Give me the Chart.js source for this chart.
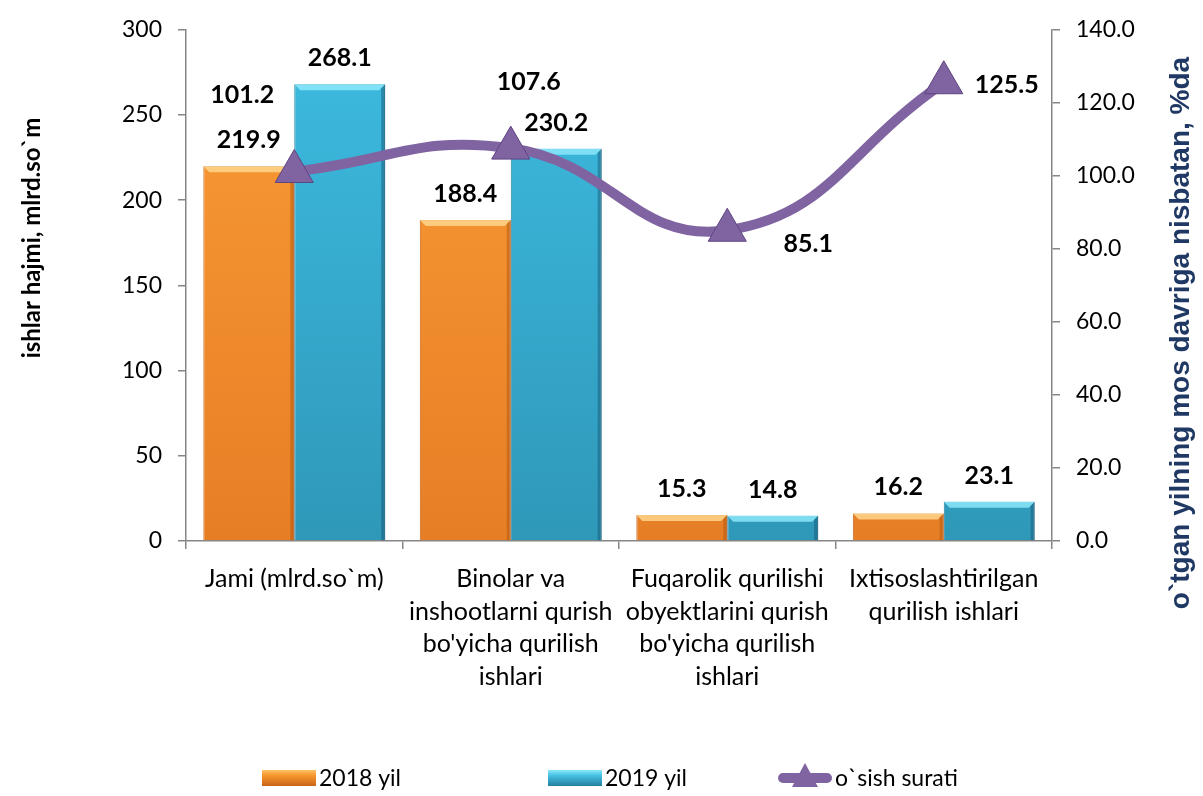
<!DOCTYPE html>
<html>
<head>
<meta charset="utf-8">
<script src="https://cdn.jsdelivr.net/npm/chart.js@4.4.1/dist/chart.umd.min.js"></script>
<style>
  html, body { margin: 0; padding: 0; background: #fff; }
  #wrap { width: 1203px; height: 796px; position: relative; }
</style>
</head>
<body>
<div id="wrap"><canvas id="grafik"></canvas></div>
<script>
// Kategoriyalar (x o'qi)
const kategoriyalar = [
  'Jami (mlrd.so`m)',
  ['Binolar va', 'inshootlarni qurish', "bo'yicha qurilish", 'ishlari'],
  ['Fuqarolik qurilishi', 'obyektlarini qurish', "bo'yicha qurilish", 'ishlari'],
  ['Ixtisoslashtirilgan', 'qurilish ishlari']
];

// Qiymatlar
const yil2018 = [219.9, 188.4, 15.3, 16.2];
const yil2019 = [268.1, 230.2, 14.8, 23.1];
const osishSurati = [101.2, 107.6, 85.1, 125.5];

// Nomlar
const seriyaNomlari = ['2018 yil', '2019 yil', 'o`sish surati'];
const chapSarlavha = 'ishlar hajmi, mlrd.so`m';
const ongSarlavha = 'o`tgan yilning mos davriga nisbatan, %da';

// chiziq yorliqlarining siljishi (px)
const chiziqYorliqSiljish = [[-52, -77], [18, -66], [81, 14], [63, 2]];

Chart.defaults.font.family = 'Lato, "Open Sans", sans-serif';
Chart.defaults.color = '#000';

const QORA = '#000';
const KULRANG = '#868686';
const BINAFSHA = '#8064A2';

function gradient(ctx, ust, past) {
  const a = ctx.chart.chartArea;
  if (!a) return past;
  const g = ctx.chart.ctx.createLinearGradient(0, a.bottom, 0, a.top);
  g.addColorStop(0, past);
  g.addColorStop(1, ust);
  return g;
}

// ustunlarga bo'rtiq (bevel) effekti
const bevelPlugin = {
  id: 'bevel',
  afterDatasetDraw(chart, args) {
    if (args.index > 1) return;
    const c = chart.ctx;
    const ochiq = args.index === 0 ? 'rgba(255,214,140,0.85)' : 'rgba(140,232,250,0.85)';
    const toq = args.index === 0 ? 'rgba(170,80,10,0.45)' : 'rgba(20,80,110,0.45)';
    c.save();
    args.meta.data.forEach(el => {
      const l = el.x - el.width / 2, r = el.x + el.width / 2, t = el.y, b = el.base;
      const k = 6;
      c.fillStyle = ochiq;
      c.beginPath();
      c.moveTo(l, t); c.lineTo(r, t); c.lineTo(r - k, t + k); c.lineTo(l + k, t + k);
      c.closePath(); c.fill();
      c.fillStyle = toq;
      c.beginPath();
      c.moveTo(r, t); c.lineTo(r, b); c.lineTo(r - 4, b); c.lineTo(r - 4, t + 4);
      c.closePath(); c.fill();
    });
    c.restore();
  }
};

// qiymat yorliqlari
const yorliqPlugin = {
  id: 'yorliqlar',
  afterDatasetsDraw(chart) {
    const c = chart.ctx;
    c.save();
    c.font = 'bold 25px Lato, "Open Sans", sans-serif';
    c.fillStyle = QORA;
    c.textAlign = 'center';
    c.textBaseline = 'middle';
    [0, 1].forEach(di => {
      const qator = chart.data.datasets[di].data;
      chart.getDatasetMeta(di).data.forEach((el, i) => {
        c.fillText(qator[i].toFixed(1), el.x, el.y - 26);
      });
    });
    chart.getDatasetMeta(2).data.forEach((el, i) => {
      const s = chiziqYorliqSiljish[i];
      c.fillText(osishSurati[i].toFixed(1), el.x + s[0], el.y + s[1]);
    });
    c.restore();
  }
};

// o'q sarlavhalari va legenda
const sarlavhaPlugin = {
  id: 'sarlavhalar',
  afterDraw(chart) {
    const c = chart.ctx;
    c.save();
    c.textAlign = 'center';
    c.textBaseline = 'middle';
    c.fillStyle = QORA;
    c.font = 'bold 24px Lato, "Open Sans", sans-serif';
    c.translate(32, 238);
    c.rotate(-Math.PI / 2);
    c.fillText(chapSarlavha, 0, 0);
    c.restore();

    c.save();
    c.textAlign = 'center';
    c.textBaseline = 'middle';
    c.fillStyle = '#1F3864';
    c.font = 'bold 28px "Liberation Sans", Arial, sans-serif';
    c.translate(1181, 333);
    c.rotate(-Math.PI / 2);
    c.fillText(ongSarlavha, 0, 0);
    c.restore();

    // legenda
    const y = 778;
    const boshlar = [262, 548, 778];
    c.save();
    c.font = '23px Lato, "Open Sans", sans-serif';
    c.textBaseline = 'middle';
    c.textAlign = 'left';
    boshlar.forEach((x, i) => {
      if (i < 2) {
        const g = c.createLinearGradient(0, y - 8, 0, y + 8);
        if (i === 0) { g.addColorStop(0, '#FFC266'); g.addColorStop(0.35, '#F7962E'); g.addColorStop(1, '#C9661A'); }
        else { g.addColorStop(0, '#8DE8FA'); g.addColorStop(0.35, '#45C0E2'); g.addColorStop(1, '#23809F'); }
        c.fillStyle = g;
        c.fillRect(x, y - 8, 54, 16);
      } else {
        c.strokeStyle = BINAFSHA;
        c.lineWidth = 10;
        c.lineCap = 'round';
        c.beginPath(); c.moveTo(x + 5, y); c.lineTo(x + 49, y); c.stroke();
        c.fillStyle = BINAFSHA;
        c.beginPath(); c.moveTo(x + 27, y - 15); c.lineTo(x + 40, y + 9); c.lineTo(x + 14, y + 9);
        c.closePath(); c.fill();
      }
      c.fillStyle = QORA;
      c.fillText(chart.data.datasets[i].label, x + 57, y + 1);
    });
    c.restore();
  }
};

new Chart(document.getElementById('grafik'), {
  type: 'bar',
  data: {
    labels: kategoriyalar,
    datasets: [
      {
        label: seriyaNomlari[0],
        data: yil2018,
        backgroundColor: ctx => gradient(ctx, '#FA9C35', '#E67E26'),
        borderColor: '#C8691E',
        borderWidth: 1,
        barPercentage: 1,
        categoryPercentage: 0.84,
        yAxisID: 'y',
        order: 1
      },
      {
        label: seriyaNomlari[1],
        data: yil2019,
        backgroundColor: ctx => gradient(ctx, '#3DBCE1', '#2F98B9'),
        borderColor: '#27809E',
        borderWidth: 1,
        barPercentage: 1,
        categoryPercentage: 0.84,
        yAxisID: 'y',
        order: 1
      },
      {
        type: 'line',
        label: seriyaNomlari[2],
        data: osishSurati,
        yAxisID: 'y1',
        borderColor: BINAFSHA,
        borderWidth: 10,
        borderCapStyle: 'round',
        tension: 0.45,
        fill: false,
        pointStyle: 'triangle',
        pointRadius: 22,
        pointHoverRadius: 22,
        pointBackgroundColor: BINAFSHA,
        pointBorderColor: '#5E4580',
        pointBorderWidth: 1,
        order: 0
      }
    ]
  },
  options: {
    responsive: true,
    maintainAspectRatio: false,
    animation: false,
    layout: { padding: { top: 27, left: 0, right: 0, bottom: 0 } },
    plugins: {
      legend: { display: false },
      tooltip: { enabled: false }
    },
    scales: {
      x: {
        grid: { offset: true, drawOnChartArea: false, tickLength: 8, color: KULRANG, lineWidth: 1.5 },
        border: { color: KULRANG, width: 1.5 },
        ticks: {
          font: { size: 25, lineHeight: 1.3 },
          color: QORA,
          padding: 14,
          maxRotation: 0,
          autoSkip: false
        },
        afterFit(s) { s.height = 255; }
      },
      y: {
        position: 'left',
        min: 0,
        max: 300,
        ticks: { stepSize: 50, font: { size: 23 }, color: QORA, padding: 16 },
        grid: { drawOnChartArea: false, tickLength: 8, color: KULRANG, lineWidth: 1.5 },
        border: { color: KULRANG, width: 1.5 },
        afterFit(s) { s.width = 186; }
      },
      y1: {
        position: 'right',
        min: 0,
        max: 140,
        ticks: {
          stepSize: 20,
          font: { size: 23 },
          color: QORA,
          padding: 16,
          callback: v => v.toFixed(1)
        },
        grid: { drawOnChartArea: false, tickLength: 8, color: KULRANG, lineWidth: 1.5 },
        border: { color: KULRANG, width: 1.5 },
        afterFit(s) { s.width = 151; }
      }
    }
  },
  plugins: [bevelPlugin, yorliqPlugin, sarlavhaPlugin]
});
</script>
</body>
</html>
